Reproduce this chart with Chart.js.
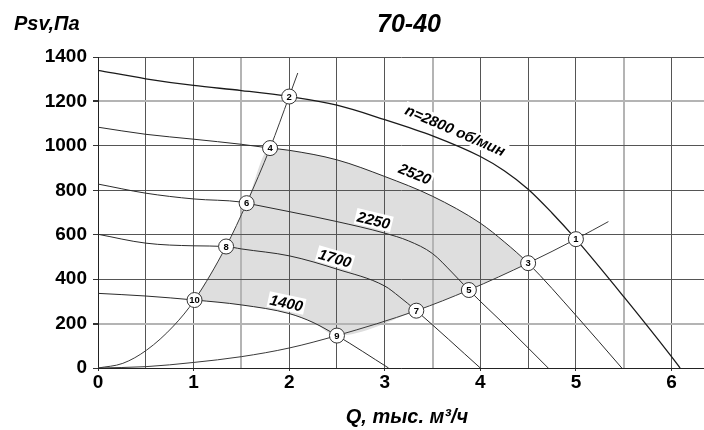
<!DOCTYPE html>
<html>
<head>
<meta charset="utf-8">
<title>70-40</title>
<script src="https://cdn.jsdelivr.net/npm/chart.js@4/dist/chart.umd.min.js"></script>
<style>
  html, body { margin: 0; padding: 0; background: #fff; }
  #wrap { width: 704px; height: 430px; position: relative; }
  canvas { background: #fff; display: block; }
</style>
</head>
<body>
<div id="wrap"><canvas id="chart" width="704" height="430"></canvas></div>
<script>
// Fan curves: flow Q (thousand m³/h) vs static pressure Psv (Pa) at each speed
const q2800 = [0, 0.5, 1, 1.5, 2, 2.5, 3, 3.5, 4, 4.25, 4.5, 4.75, 5, 5.5, 6, 6.09];
const p2800 = [1340, 1302, 1272, 1249, 1222, 1183, 1118, 1045, 952, 888, 805, 698, 580, 321, 51, 0];

const q2520 = [0, 0.5, 1, 1.5, 1.8, 2, 2.5, 3, 3.5, 4, 4.25, 4.5, 5, 5.48];
const p2520 = [1084, 1052, 1030, 1007, 990, 980, 937, 862, 773, 652, 568, 472, 237, 0];

const q2250 = [0, 0.5, 1, 1.5, 1.555, 2, 2.5, 3, 3.25, 3.5, 3.7, 3.88, 4.3, 4.71];
const p2250 = [828, 787, 761, 747, 742, 704, 659, 607, 572, 515, 432, 351, 176, 0];

const q1700 = [0, 0.5, 1, 1.34, 1.5, 2, 2.5, 3, 3.15, 3.33, 4.0];
const p1700 = [602, 562, 550, 547, 536, 505, 445, 369, 322, 258, 0];

const q1400 = [0, 0.5, 1.01, 1.5, 2, 2.25, 2.5, 3.04];
const p1400 = [336, 324, 306, 284, 245, 205, 146, 0];

// System (duct resistance) curves through the numbered operating points
const qSysA = [0, 0.26, 0.51, 0.79, 1.01, 1.34, 1.555, 1.8, 2, 2.09];
const pSysA = [0, 21, 81, 189, 306, 547, 742, 990, 1222, 1328];

const qSysB = [0, 0.5, 1, 1.5, 2, 2.5, 3.33, 3.88, 4.5, 5, 5.34];
const pSysB = [0, 6, 25, 51, 90, 146, 258, 351, 472, 580, 659];

// Numbered operating points
const markerNo = [1, 2, 3, 4, 5, 6, 7, 8, 9, 10];
const markerQ = [5.0, 2.0, 4.5, 1.8, 3.88, 1.555, 3.33, 1.34, 2.5, 1.01];
const markerP = [580, 1222, 472, 990, 351, 742, 258, 547, 146, 306];

// Axis tick labels
const qTickLabels = [0, 1, 2, 3, 4, 5, 6];
const pTickLabels = [0, 200, 400, 600, 800, 1000, 1200, 1400];

// Speed labels, rpm
const speedNames = ['n=2800 об/мин', '2520', '2250', '1700', '1400'];

const pts = (qs, ps) => qs.map((q, i) => ({ x: q, y: ps[i] }));

// Working zone: upper edge = system curve A then 2520 curve, lower edge = 1400 curve then system curve B
const zoneLo = 1.01, zoneHi = 4.5, cornerA = 1.8, cornerB = 2.5;
const zoneUpper = [
  ...pts(qSysA, pSysA).filter(p => p.x >= zoneLo && p.x < cornerA),
  ...pts(q2520, p2520).filter(p => p.x >= cornerA && p.x <= zoneHi)
];
const zoneLower = [
  ...pts(q1400, p1400).filter(p => p.x >= zoneLo && p.x < cornerB),
  ...pts(qSysB, pSysB).filter(p => p.x >= cornerB && p.x <= zoneHi)
];

const CURVE = '#2b2b2b';
const FONT = '"Liberation Sans", Arial, sans-serif';

function curve(data, width, color) {
  return {
    data, borderColor: color || CURVE, borderWidth: width || 1,
    pointRadius: 0, cubicInterpolationMode: 'monotone', fill: false, order: 2
  };
}

function interp(qs, ps, q) {
  for (let i = 1; i < qs.length; i++) {
    if (q <= qs[i]) {
      const t = (q - qs[i - 1]) / (qs[i] - qs[i - 1]);
      return ps[i - 1] + t * (ps[i] - ps[i - 1]);
    }
  }
  return ps[ps.length - 1];
}

// Where each speed label sits: Q along its curve and offset above the curve (px)
const speedLabels = [
  { text: speedNames[0], qs: q2800, ps: p2800, at: 3.68, off: 14 },
  { text: speedNames[1], qs: q2520, ps: p2520, at: 3.26, off: 14 },
  { text: speedNames[2], qs: q2250, ps: p2250, at: 2.86, off: 10 },
  { text: speedNames[3], qs: q1700, ps: p1700, at: 2.45, off: 10 },
  { text: speedNames[4], qs: q1400, ps: p1400, at: 1.95, off: 10 }
];

const lightQ = [1.5, 3.5, 5.5];
const lightP = [200, 1200];

const annotate = {
  id: 'annotate',
  afterDatasetsDraw(chart) {
    const { ctx } = chart;
    const xs = chart.scales.x, ys = chart.scales.y;

    // speed labels along the curves
    speedLabels.forEach(l => {
      const h = 0.08;
      const x1 = xs.getPixelForValue(l.at - h), y1 = ys.getPixelForValue(interp(l.qs, l.ps, l.at - h));
      const x2 = xs.getPixelForValue(l.at + h), y2 = ys.getPixelForValue(interp(l.qs, l.ps, l.at + h));
      const ang = Math.atan2(y2 - y1, x2 - x1);
      const cx = xs.getPixelForValue(l.at), cy = ys.getPixelForValue(interp(l.qs, l.ps, l.at));
      const px = cx + Math.sin(ang) * l.off, py = cy - Math.cos(ang) * l.off;
      ctx.save();
      ctx.translate(px, py);
      ctx.rotate(ang);
      ctx.font = 'italic bold 15px ' + FONT;
      const w = ctx.measureText(l.text).width;
      ctx.fillStyle = '#fff';
      ctx.fillRect(-w / 2 - 2, -8, w + 4, 16);
      ctx.fillStyle = '#000';
      ctx.textAlign = 'center';
      ctx.textBaseline = 'middle';
      ctx.fillText(l.text, 0, 1);
      ctx.restore();
    });

    // numbers inside the operating point circles
    const meta = chart.getDatasetMeta(chart.data.datasets.length - 1);
    ctx.save();
    ctx.font = 'bold 9.5px ' + FONT;
    ctx.fillStyle = '#000';
    ctx.textAlign = 'center';
    ctx.textBaseline = 'middle';
    meta.data.forEach((el, i) => {
      ctx.fillText(String(markerNo[i]), el.x, el.y + 0.5);
    });
    ctx.restore();
  },
  afterDraw(chart) {
    const { ctx } = chart;
    ctx.save();
    ctx.fillStyle = '#000';
    ctx.textBaseline = 'alphabetic';
    ctx.font = 'italic bold 25px ' + FONT;
    ctx.textAlign = 'center';
    ctx.fillText('70-40', 409, 32);
    ctx.font = 'italic bold 20px ' + FONT;
    ctx.textAlign = 'left';
    ctx.fillText('Psv,Па', 14, 30);
    ctx.textAlign = 'center';
    ctx.fillText('Q, тыс. м³/ч', 407, 423);
    ctx.restore();
  }
};

new Chart(document.getElementById('chart'), {
  type: 'line',
  data: {
    datasets: [
      {
        data: zoneUpper, borderColor: 'rgba(0,0,0,0)', borderWidth: 0, pointRadius: 0,
        cubicInterpolationMode: 'monotone', backgroundColor: '#dedede', fill: '+1', order: 5
      },
      {
        data: zoneLower, borderColor: 'rgba(0,0,0,0)', borderWidth: 0, pointRadius: 0,
        cubicInterpolationMode: 'monotone', fill: false, order: 5
      },
      curve(pts(q2800, p2800), 1.3, '#1a1a1a'),
      curve(pts(q2520, p2520)),
      curve(pts(q2250, p2250)),
      curve(pts(q1700, p1700)),
      curve(pts(q1400, p1400)),
      curve(pts(qSysA, pSysA), 1, '#3a3a3a'),
      curve(pts(qSysB, pSysB), 1, '#3a3a3a'),
      {
        data: pts(markerQ, markerP), showLine: false, pointRadius: 7.5, pointHoverRadius: 7.5,
        pointBackgroundColor: '#fff', pointBorderColor: '#333', pointBorderWidth: 1, order: 0
      }
    ]
  },
  options: {
    responsive: false,
    devicePixelRatio: 1,
    animation: false,
    events: [],
    layout: { autoPadding: false, padding: { top: 57, left: 0, right: 0, bottom: 0 } },
    plugins: {
      legend: { display: false },
      tooltip: { enabled: false },
      filler: { drawTime: 'beforeDraw' }
    },
    scales: {
      x: {
        type: 'linear', min: 0, max: 6.34,
        afterFit: s => { s.height = 62; s.paddingLeft = 0; s.paddingRight = 0; },
        afterBuildTicks: s => { s.ticks = s.ticks.filter(t => Math.abs(t.value * 2 - Math.round(t.value * 2)) < 1e-6); },
        border: { color: '#222', width: 1 },
        grid: {
          color: c => lightQ.includes(c.tick.value) ? '#b4b4b4' : '#555',
          lineWidth: c => lightQ.includes(c.tick.value) ? 2 : 1,
          tickLength: 3,
          tickColor: c => qTickLabels.includes(c.tick.value) ? '#333' : 'rgba(0,0,0,0)'
        },
        ticks: {
          stepSize: 0.5, includeBounds: false, autoSkip: false, maxRotation: 0, padding: 0,
          color: '#000', font: { family: FONT, weight: 'bold', size: 19 },
          callback: v => qTickLabels.includes(v) ? String(v) : ''
        }
      },
      y: {
        min: 0, max: 1400,
        afterFit: s => { s.width = 98; s.paddingTop = 0; s.paddingBottom = 0; },
        border: { color: '#222', width: 1 },
        grid: {
          color: c => lightP.includes(c.tick.value) ? '#b4b4b4' : '#555',
          lineWidth: c => lightP.includes(c.tick.value) ? 2 : 1,
          tickLength: 5,
          tickColor: '#333'
        },
        ticks: {
          stepSize: 200, padding: 6, color: '#000',
          font: { family: FONT, weight: 'bold', size: 19 },
          callback: v => pTickLabels.includes(v) ? String(v) : ''
        }
      }
    }
  },
  plugins: [annotate]
});
</script>
</body>
</html>
